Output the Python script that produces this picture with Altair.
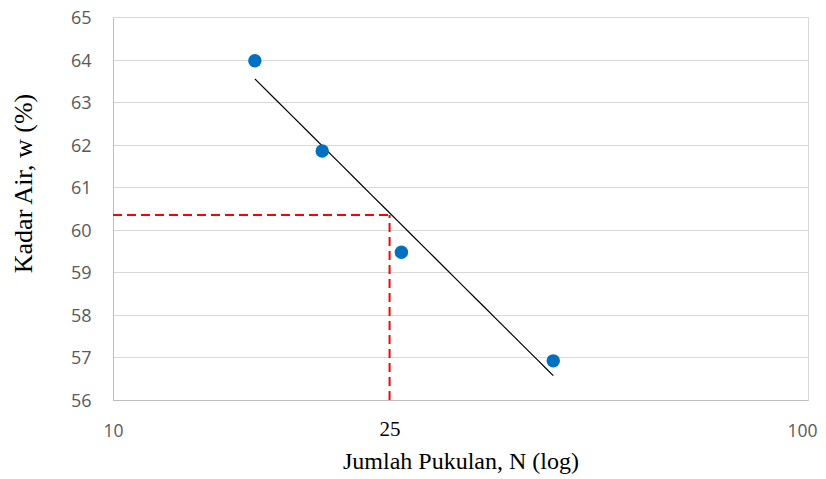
import altair as alt
import pandas as pd

# Data
blows = [16, 20, 26, 43]
water = [63.97, 61.85, 59.47, 56.92]
n_ref = 25
ll_value = 60.35
x_ticks = [10, 25, 100]
y_domain = [56, 65]
x_domain = [10, 100]

pts = pd.DataFrame({"N": blows, "w": water})
hline = pd.DataFrame({"x": [x_domain[0]], "x2": [n_ref], "y": [ll_value]})
vline = pd.DataFrame({"x": [n_ref], "y": [y_domain[0]], "y2": [ll_value]})

xscale = alt.Scale(type="log", domain=x_domain)
yscale = alt.Scale(domain=y_domain, nice=False, zero=False)

is25 = "datum.value == 25"
is100 = "datum.value == 100"
xaxis = alt.Axis(
    title="Jumlah Pukulan, N (log)",
    values=x_ticks,
    format="d",
    ticks=False,
    labelPadding={"condition": {"test": is25, "value": 18}, "value": 22},
    labelOffset={"condition": {"test": is100, "value": -6}, "value": 0},
    labelFont={"condition": {"test": is25, "value": "Liberation Serif"}, "value": "Open Sans"},
    labelFontSize={"condition": {"test": is25, "value": 21}, "value": 17.5},
    labelColor={"condition": {"test": is25, "value": "#000000"}, "value": "#595959"},
    titleFont="Liberation Serif",
    titleFontSize=24,
    titleFontWeight="normal",
    titleColor="#000000",
    titlePadding=10,
    gridColor={"condition": {"test": is25, "value": "transparent"}, "value": "#D9D9D9"},
    domainColor="#BFBFBF",
    labelFlush=False,
)
yaxis = alt.Axis(
    title="Kadar Air, w (%)",
    values=list(range(56, 66)),
    ticks=False,
    labelPadding=22,
    labelOffset=1.5,
    labelFont="Open Sans",
    labelFontSize=18,
    labelColor="#595959",
    titleFont="Liberation Serif",
    titleFontSize=26,
    titleFontWeight="normal",
    titleColor="#000000",
    titleX=-90,
    titleY=166,
    titleAlign="center",
    titleBaseline="middle",
    gridColor="#D9D9D9",
    domainColor="#BFBFBF",
)

base_pts = alt.Chart(pts)

points = base_pts.mark_circle(size=180, color="#0070C0", opacity=1).encode(
    x=alt.X("N:Q", scale=xscale, axis=xaxis),
    y=alt.Y("w:Q", scale=yscale, axis=yaxis),
)

trend = base_pts.transform_regression("N", "w", method="log").mark_line(
    color="#000000", strokeWidth=1.2
).encode(
    x=alt.X("N:Q", scale=xscale),
    y=alt.Y("w:Q", scale=yscale),
)

h = alt.Chart(hline).mark_rule(color="#FF0000", strokeWidth=2, strokeDash=[9, 5]).encode(
    x=alt.X("x:Q", scale=xscale), x2="x2:Q", y=alt.Y("y:Q", scale=yscale)
)
v = alt.Chart(vline).mark_rule(color="#FF0000", strokeWidth=2, strokeDash=[9, 5]).encode(
    x=alt.X("x:Q", scale=xscale), y=alt.Y("y:Q", scale=yscale), y2="y2:Q"
)

chart = alt.layer(h, v, trend, points).properties(
    width=695,
    height=383,
    autosize=alt.AutoSizeParams(type="none"),
    padding={"left": 105, "top": 9, "right": 10, "bottom": 79},
).configure_view(stroke=None).configure(background="white")

chart.save("out.html", embed_options={"renderer": "svg", "actions": False})
